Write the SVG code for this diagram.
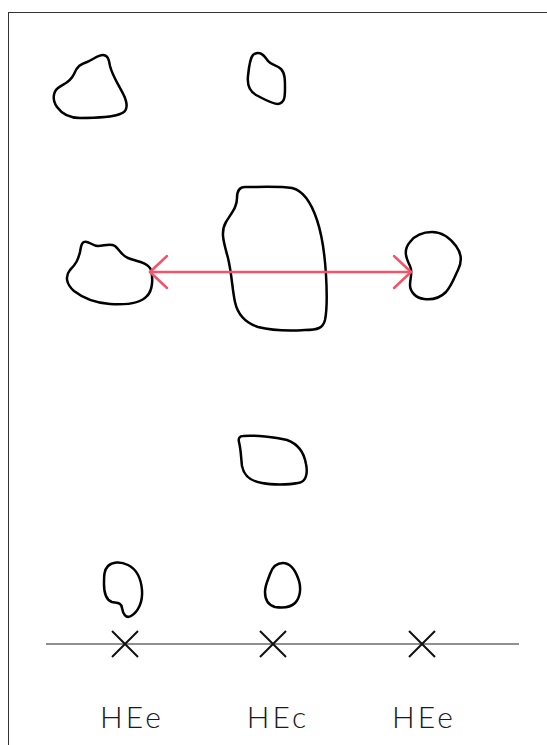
<svg xmlns="http://www.w3.org/2000/svg" width="547" height="745" viewBox="0 0 547 745">
<style>
.blob{fill:none;stroke:#000;stroke-width:2.5;stroke-linejoin:round}
.arr{fill:none;stroke:#f4546a;stroke-width:2.5;stroke-linecap:round;stroke-linejoin:round}
.xm{stroke:#111;stroke-width:2}
.lbl{font-family:"Lato","Liberation Sans",sans-serif;font-weight:300;font-size:30px;fill:#1a1a1a;text-anchor:middle;letter-spacing:3px}
</style>
<rect x="8.5" y="12.5" width="560" height="760" fill="#fff" stroke="#333" stroke-width="1"/>
<g id="node-top-left"><path class="blob" d="M103,55 C108,55 109,60 110,66 C113,78 122,90 125,98 C128,106 127,112 120,114 C110,118 92,118 80,118 C70,118 62,114 57,107 C52,100 53,92 58,88 C63,84 70,83 74,74 C77,66 81,64 87,62 C94,59 98,55 103,55 Z"/></g>
<g id="node-top-mid"><path class="blob" d="M258,53 C263,53 265,57 268,61 C271,65 277,65 281,69 C285,73 285,80 285,88 C285,96 285,103 278,104 C272,104 264,99 256,95 C249,91 247,85 248,76 C249,66 250,58 253,55 C255,53 256,53 258,53 Z"/></g>
<g id="node-mid-left"><path class="blob" d="M84,242 C88,240 92,246 98,246 C104,246 110,243 115,246 C120,250 121,255 128,258 C135,261 148,262 151,270 C153,278 153,290 147,296 C140,304 125,305 110,304 C96,303 83,298 74,291 C66,284 65,276 70,270 C76,264 78,260 80,252 C81,247 81,243 84,242 Z"/></g>
<g id="node-center"><path class="blob" d="M245,187 C260,187 280,186 292,188 C305,191 312,205 317,220 C323,238 325,258 326,275 C327,292 327,310 325,320 C323,328 318,330 305,330 C290,331 270,330 258,327 C246,323 238,316 235,302 C232,288 232,275 228,258 C224,243 220,232 226,222 C232,212 237,207 237,198 C237,190 240,187 245,187 Z"/></g>
<g id="node-mid-right"><path class="blob" d="M410,242 C416,234 424,232 432,232 C442,232 450,238 456,246 C462,254 462,262 458,270 C454,278 452,285 446,292 C440,298 432,300 424,299 C416,298 410,292 410,285 C410,278 413,272 410,266 C406,258 403,250 410,242 Z"/></g>
<g id="node-lower-mid"><path class="blob" d="M243,436 C255,435 275,437 287,440 C298,444 304,452 306,464 C308,474 306,482 298,483 C288,485 272,485 262,483 C250,481 244,476 242,466 C241,458 241,450 239,442 C238,438 240,436 243,436 Z"/></g>
<g id="node-bottom-left"><path class="blob" d="M108,566 C112,562 120,561 128,565 C136,569 141,578 142,590 C143,602 138,612 131,616 C126,619 123,614 122,608 C121,602 117,603 112,602 C106,600 104,594 104,584 C104,576 104,570 108,566 Z"/></g>
<g id="node-bottom-mid"><path class="blob" d="M283,563 C290,563 295,570 298,578 C302,588 300,598 295,603 C290,608 282,608 275,607 C268,605 265,600 265,592 C265,585 268,580 270,574 C272,568 276,563 283,563 Z"/></g>
<g id="connectors">
<line class="arr" x1="150" y1="272" x2="411" y2="272"/>
<polyline class="arr" points="167,256 150,272 167,288"/>
<polyline class="arr" points="394,256 411,272 394,288"/>
</g>
<g id="axis">
<line x1="46" y1="644" x2="519" y2="644" stroke="#222" stroke-width="1.2"/>
<path class="xm" d="M112,631 L138,657 M138,631 L112,657"/>
<path class="xm" d="M260,631 L286,657 M286,631 L260,657"/>
<path class="xm" d="M409,631 L435,657 M435,631 L409,657"/>
</g>
<g id="labels">
<text class="lbl" x="132" y="728">HEe</text>
<text class="lbl" x="278" y="728">HEc</text>
<text class="lbl" x="424" y="728">HEe</text>
</g>
</svg>
